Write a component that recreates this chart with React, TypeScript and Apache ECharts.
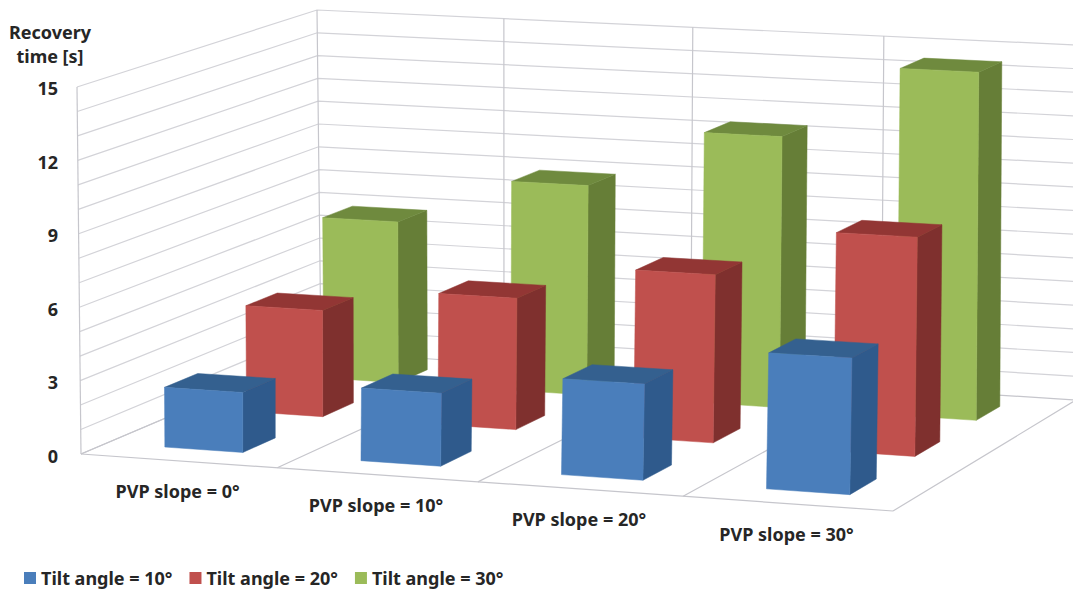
import React, { useEffect, useRef } from "react";
import * as echarts from "echarts";

// Chart content
const slopeCategories = ["PVP slope = 0°", "PVP slope = 10°", "PVP slope = 20°", "PVP slope = 30°"];
const tilt10Values = [2.45, 2.95, 3.85, 5.4];
const tilt20Values = [4.45, 5.45, 6.9, 8.9];
const tilt30Values = [6.9, 8.9, 11.4, 14.5];
const wallLevels = [0, 1, 2, 3, 4, 5, 6, 7, 8, 9, 10, 11, 12, 13, 14, 15];

// Box corners of the 3D scene in page pixels: floor and ceiling of the plot volume
type Pt = [number, number];
const FLOOR: Pt[] = [[81, 454], [893, 511], [1076, 400], [321, 352]];
const CEILING: Pt[] = [[77, 87], [899, 127], [1077, 45], [317, 10]];

const BAR_SHARE = 0.4; // bar size relative to its slot, on both floor directions
const ROWS = 3;

// Unit square to quadrilateral projective map
function squareToQuad(q: Pt[]) {
  const [[x0, y0], [x1, y1], [x2, y2], [x3, y3]] = q;
  const dx1 = x1 - x2, dx2 = x3 - x2, sx = x0 - x1 + x2 - x3;
  const dy1 = y1 - y2, dy2 = y3 - y2, sy = y0 - y1 + y2 - y3;
  const den = dx1 * dy2 - dx2 * dy1;
  const g = (sx * dy2 - dx2 * sy) / den;
  const h = (dx1 * sy - sx * dy1) / den;
  const a = x1 - x0 + g * x1, b = x3 - x0 + h * x3;
  const d = y1 - y0 + g * y1, e = y3 - y0 + h * y3;
  return (u: number, v: number): Pt => {
    const w = g * u + h * v + 1;
    return [(a * u + b * v + x0) / w, (d * u + e * v + y0) / w];
  };
}
const floorAt = squareToQuad(FLOOR);
const ceilingAt = squareToQuad(CEILING);

// u: along the categories, v: depth towards the back wall, t: share of the value axis
function project(u: number, v: number, t: number): Pt {
  const f = floorAt(u, v);
  const c = ceilingAt(u, v);
  return [f[0] + (c[0] - f[0]) * t, f[1] + (c[1] - f[1]) * t];
}

// Value axis position as a share of the plot height
function levelShare(params: any, api: any, value: number) {
  const { y, height } = params.coordSys;
  return (y + height - api.coord([0, value])[1]) / height;
}

function bar3dSeries(name: string, row: number, values: number[], front: string, side: string, top: string, z: number) {
  return {
    name,
    type: "custom",
    z,
    silent: true,
    itemStyle: { color: front },
    encode: { x: 0, y: 1 },
    data: values.map((v, i) => [i, v]),
    renderItem(params: any, api: any) {
      const { x, y, width, height } = params.coordSys;
      const [cx, vy] = api.coord([api.value(0), api.value(1)]);
      const band = api.size([1, 0])[0];
      const half = (band * BAR_SHARE) / 2;
      const u0 = (cx - half - x) / width;
      const u1 = (cx + half - x) / width;
      const v0 = (row + (1 - BAR_SHARE) / 2) / ROWS;
      const v1 = (row + (1 + BAR_SHARE) / 2) / ROWS;
      const t = (y + height - vy) / height;
      const face = (points: Pt[], color: string) => ({
        type: "polygon",
        shape: { points },
        style: { fill: color, stroke: color, lineWidth: 0.5 },
      });
      return {
        type: "group",
        children: [
          face([project(u1, v0, 0), project(u1, v1, 0), project(u1, v1, t), project(u1, v0, t)], side),
          face([project(u0, v0, t), project(u1, v0, t), project(u1, v1, t), project(u0, v1, t)], top),
          face([project(u0, v0, 0), project(u1, v0, 0), project(u1, v0, t), project(u0, v0, t)], front),
        ],
      };
    },
  };
}

const GRID_COLOR = "#d3d3d8";
const FRAME_COLOR = "#c6c6cc";
const TEXT_COLOR = "#262626";
const FONT = "'Noto Sans', Lato, sans-serif";

// Horizontal rulings running along the side wall and the back wall
const levelLinesSeries = {
  type: "custom",
  z: 1,
  silent: true,
  encode: { x: 0, y: 1 },
  data: wallLevels.map((l) => [0, l]),
  renderItem(params: any, api: any) {
    const t = levelShare(params, api, api.value(1));
    return {
      type: "polyline",
      shape: { points: [project(0, 0, t), project(0, 1, t), project(1, 1, t)] },
      style: { fill: "none", stroke: t === 0 ? FRAME_COLOR : GRID_COLOR, lineWidth: 1.2 },
    };
  },
};

// Category dividers on the floor and back wall, plus the floor and wall outline
const dividerSeries = {
  type: "custom",
  z: 1,
  silent: true,
  encode: { x: 0, y: 1 },
  data: [0, 1, 2, 3, 4].map((k) => [0, k]),
  renderItem(params: any, api: any) {
    const k = api.value(1);
    const u = k / 4;
    const children: any[] = [];
    const line = (points: Pt[]) =>
      children.push({ type: "polyline", shape: { points }, style: { fill: "none", stroke: FRAME_COLOR, lineWidth: 1.2 } });
    line([project(u, 0, 0), project(u, 1, 0), project(u, 1, 1)]);
    if (k === 0) line([project(0, 0, 0), project(1, 0, 0)]);
    if (k === 0) line([project(0, 0, 0), project(0, 0, 1)]);
    return { type: "group", children };
  },
};

// Category names set below the slanted front edge of the floor
const categoryLabelSeries = {
  type: "custom",
  z: 5,
  silent: true,
  encode: { x: 0, y: 1 },
  data: slopeCategories.map((_, i) => [i, 0]),
  renderItem(params: any, api: any) {
    const { x, width } = params.coordSys;
    const i = api.value(0);
    const cx = api.coord([i, 0])[0];
    const [px, py] = project((cx - x) / width, 0, 0);
    return {
      type: "text",
      style: {
        text: slopeCategories[i],
        x: px - 1,
        y: py + 30,
        fill: TEXT_COLOR,
        font: `bold 18px ${FONT}`,
        textAlign: "center",
        textVerticalAlign: "middle",
      },
    };
  },
};

export default function App() {
  const ref = useRef<HTMLDivElement>(null);

  useEffect(() => {
    document.body.style.margin = "0";
    document.body.style.overflow = "hidden";
    const chart = echarts.init(ref.current!, undefined, { renderer: "svg" });
    chart.setOption({
      animation: false,
      backgroundColor: "#ffffff",
      title: {
        text: "Recovery\ntime [s]",
        left: 50,
        top: 20,
        padding: 0,
        textAlign: "center",
        textStyle: { fontFamily: FONT, fontWeight: "bold", fontSize: 18, lineHeight: 24, color: TEXT_COLOR },
      },
      grid: { left: 80, top: 88, width: 813, height: 368 },
      xAxis: {
        type: "category",
        data: slopeCategories,
        axisLine: { show: false },
        axisTick: { show: false },
        axisLabel: { show: false },
      },
      yAxis: {
        type: "value",
        min: 0,
        max: 15,
        interval: 3,
        axisLine: { show: false },
        axisTick: { show: false },
        splitLine: { show: false },
        axisLabel: { margin: 22, fontFamily: FONT, fontWeight: "bold", fontSize: 18, color: TEXT_COLOR },
      },
      legend: {
        data: ["Tilt angle = 10°", "Tilt angle = 20°", "Tilt angle = 30°"],
        left: 24,
        top: 569,
        padding: 0,
        itemWidth: 12,
        itemHeight: 12,
        itemGap: 17,
        icon: "rect",
        selectedMode: false,
        textStyle: { fontFamily: FONT, fontWeight: "bold", fontSize: 18, color: TEXT_COLOR, padding: [0, 0, 0, 0] },
      },
      series: [
        levelLinesSeries,
        dividerSeries,
        bar3dSeries("Tilt angle = 30°", 2, tilt30Values, "#9bbb59", "#667e37", "#6f8a3e", 2),
        bar3dSeries("Tilt angle = 20°", 1, tilt20Values, "#c0504d", "#7f302e", "#923634", 3),
        bar3dSeries("Tilt angle = 10°", 0, tilt10Values, "#4a7ebb", "#2f5a8c", "#34608f", 4),
        categoryLabelSeries,
      ],
    });
    return () => chart.dispose();
  }, []);

  return <div ref={ref} style={{ width: 1073, height: 590 }} />;
}
